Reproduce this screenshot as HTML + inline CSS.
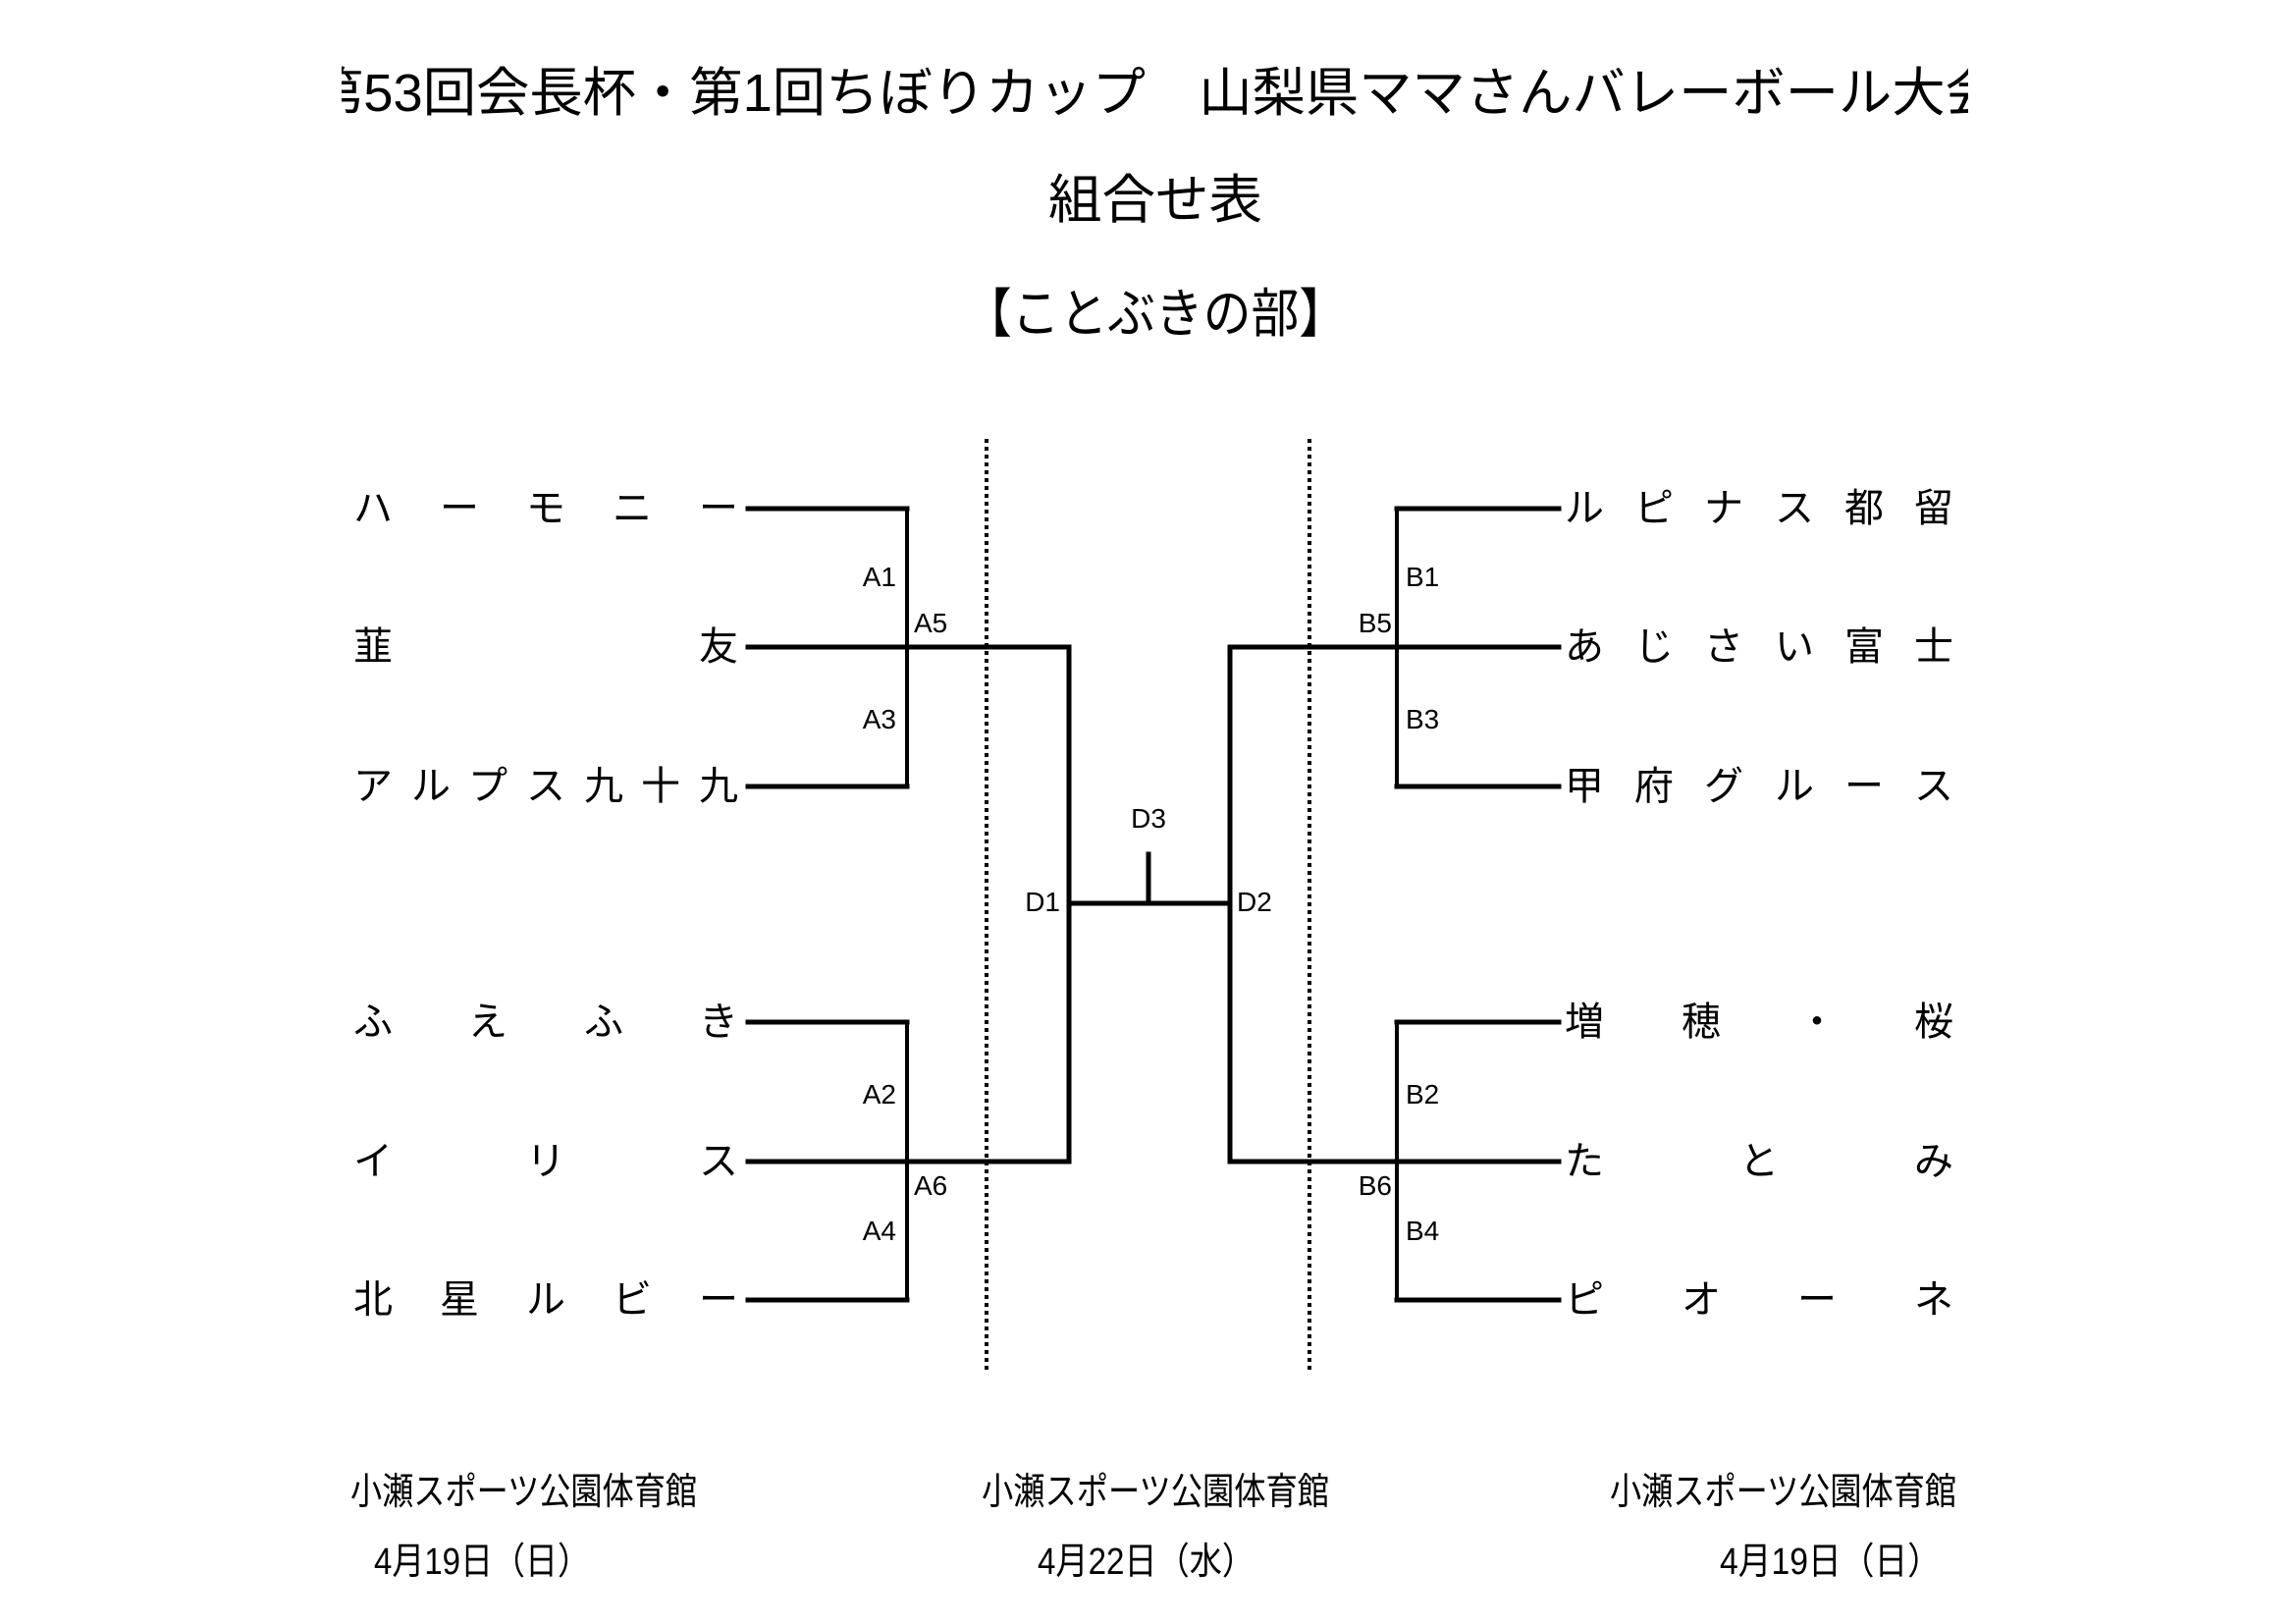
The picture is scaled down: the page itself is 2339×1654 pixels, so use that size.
<!DOCTYPE html>
<html><head><meta charset="utf-8"><style>
html,body{margin:0;padding:0;background:#fff;}
svg{display:block;}
text{font-family:"Liberation Sans","Noto Sans CJK JP",sans-serif;fill:#000;}
.l{font-family:"DejaVu Sans","Liberation Sans",sans-serif;font-size:28px;}
</style></head><body>
<svg width="2339" height="1654" viewBox="0 0 2339 1654" xmlns="http://www.w3.org/2000/svg">
<defs><clipPath id="tc"><rect x="348" y="40" width="1657" height="100"/></clipPath></defs>
<g clip-path="url(#tc)">
<text x="1176" y="113" font-size="54" text-anchor="middle" textLength="1720" lengthAdjust="spacingAndGlyphs">第53回会長杯・第1回ちぼりカップ　山梨県ママさんバレーボール大会</text>
</g>
<text x="1177" y="222" font-size="54" text-anchor="middle" textLength="218" lengthAdjust="spacingAndGlyphs">組合せ表</text>
<text x="1177" y="338" font-size="54" text-anchor="middle" textLength="390" lengthAdjust="spacingAndGlyphs">【ことぶきの部】</text>

<g stroke="#000" stroke-width="4" stroke-dasharray="4,4">
<line x1="1005" y1="447" x2="1005" y2="1395"/>
<line x1="1334" y1="447" x2="1334" y2="1395"/>
</g>

<g stroke="#000" fill="none" stroke-linecap="square">
<g stroke-width="5">
<line x1="762" y1="518" x2="924" y2="518"/>
<line x1="762" y1="659" x2="1089" y2="659"/>
<line x1="762" y1="801" x2="924" y2="801"/>
<line x1="762" y1="1041" x2="924" y2="1041"/>
<line x1="762" y1="1183" x2="1089" y2="1183"/>
<line x1="762" y1="1324" x2="924" y2="1324"/>
<line x1="1423" y1="518" x2="1588" y2="518"/>
<line x1="1253" y1="659" x2="1588" y2="659"/>
<line x1="1423" y1="801" x2="1588" y2="801"/>
<line x1="1423" y1="1041" x2="1588" y2="1041"/>
<line x1="1253" y1="1183" x2="1588" y2="1183"/>
<line x1="1423" y1="1324" x2="1588" y2="1324"/>
<line x1="1089" y1="920" x2="1253" y2="920"/>
<line x1="1089" y1="659" x2="1089" y2="1183"/>
<line x1="1253" y1="659" x2="1253" y2="1183"/>
<line x1="1170" y1="870" x2="1170" y2="920"/>
</g>
<g stroke-width="4">
<line x1="924" y1="518" x2="924" y2="801"/>
<line x1="924" y1="1041" x2="924" y2="1324"/>
<line x1="1423" y1="518" x2="1423" y2="801"/>
<line x1="1423" y1="1041" x2="1423" y2="1324"/>
</g>
</g>

<g class="l">
<text x="913" y="597" text-anchor="end">A1</text>
<text x="913" y="742" text-anchor="end">A3</text>
<text x="931" y="644">A5</text>
<text x="913" y="1124" text-anchor="end">A2</text>
<text x="931" y="1217">A6</text>
<text x="913" y="1263" text-anchor="end">A4</text>
<text x="1432" y="597">B1</text>
<text x="1432" y="742">B3</text>
<text x="1418" y="644" text-anchor="end">B5</text>
<text x="1432" y="1124">B2</text>
<text x="1418" y="1217" text-anchor="end">B6</text>
<text x="1432" y="1263">B4</text>
<text x="1170" y="843" text-anchor="middle">D3</text>
<text x="1080" y="928" text-anchor="end">D1</text>
<text x="1260" y="928">D2</text>
</g>

<g font-size="40">
<text y="531"><tspan x="360">ハ</tspan><tspan x="448">ー</tspan><tspan x="536">モ</tspan><tspan x="624">ニ</tspan><tspan x="712">ー</tspan></text>
<text y="672"><tspan x="360">韮</tspan><tspan x="712">友</tspan></text>
<text y="814"><tspan x="360">ア</tspan><tspan x="419">ル</tspan><tspan x="477">プ</tspan><tspan x="536">ス</tspan><tspan x="595">九</tspan><tspan x="653">十</tspan><tspan x="712">九</tspan></text>
<text y="1054"><tspan x="360">ふ</tspan><tspan x="477">え</tspan><tspan x="595">ふ</tspan><tspan x="712">き</tspan></text>
<text y="1196"><tspan x="360">イ</tspan><tspan x="536">リ</tspan><tspan x="712">ス</tspan></text>
<text y="1337"><tspan x="360">北</tspan><tspan x="448">星</tspan><tspan x="536">ル</tspan><tspan x="624">ビ</tspan><tspan x="712">ー</tspan></text>
<text y="531"><tspan x="1594">ル</tspan><tspan x="1665">ピ</tspan><tspan x="1736">ナ</tspan><tspan x="1808">ス</tspan><tspan x="1879">都</tspan><tspan x="1950">留</tspan></text>
<text y="672"><tspan x="1594">あ</tspan><tspan x="1665">じ</tspan><tspan x="1736">さ</tspan><tspan x="1808">い</tspan><tspan x="1879">富</tspan><tspan x="1950">士</tspan></text>
<text y="814"><tspan x="1594">甲</tspan><tspan x="1665">府</tspan><tspan x="1736">グ</tspan><tspan x="1808">ル</tspan><tspan x="1879">ー</tspan><tspan x="1950">ス</tspan></text>
<text y="1054"><tspan x="1594">増</tspan><tspan x="1713">穂</tspan><tspan x="1831">・</tspan><tspan x="1950">桜</tspan></text>
<text y="1196"><tspan x="1594">た</tspan><tspan x="1772">と</tspan><tspan x="1950">み</tspan></text>
<text y="1337"><tspan x="1594">ピ</tspan><tspan x="1713">オ</tspan><tspan x="1831">ー</tspan><tspan x="1950">ネ</tspan></text>
</g>

<g font-size="38">
<text x="357" y="1532" textLength="353" lengthAdjust="spacingAndGlyphs">小瀬スポーツ公園体育館</text>
<text x="1000" y="1532" textLength="354" lengthAdjust="spacingAndGlyphs">小瀬スポーツ公園体育館</text>
<text x="1640" y="1532" textLength="353" lengthAdjust="spacingAndGlyphs">小瀬スポーツ公園体育館</text>
<text x="381" y="1603" textLength="220" lengthAdjust="spacingAndGlyphs">4月19日（日）</text>
<text x="1057" y="1603" textLength="221" lengthAdjust="spacingAndGlyphs">4月22日（水）</text>
<text x="1752" y="1603" textLength="225" lengthAdjust="spacingAndGlyphs">4月19日（日）</text>
</g>
</svg>
</body></html>
